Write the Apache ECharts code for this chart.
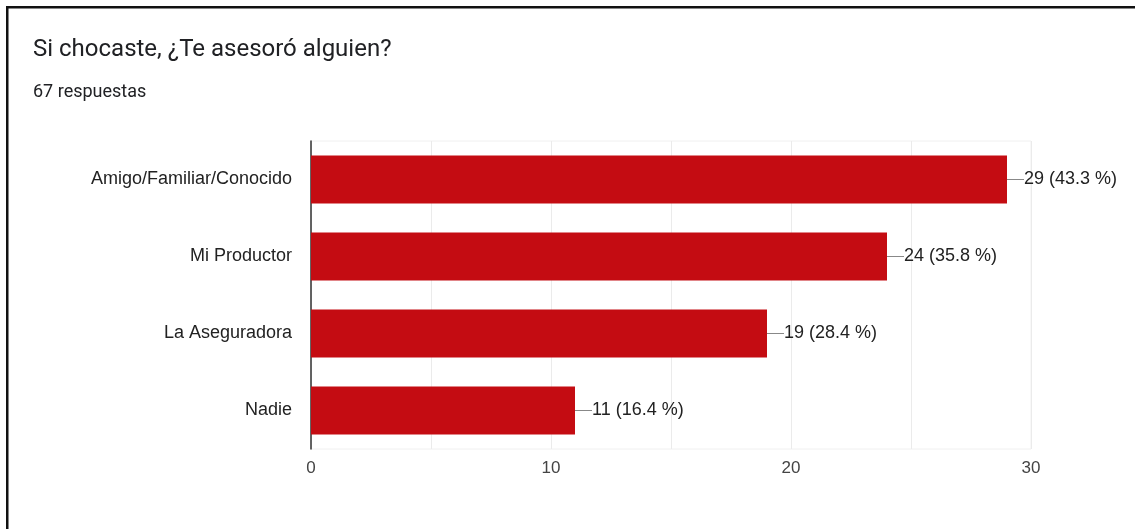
<!DOCTYPE html>
<html>
<head>
<meta charset="utf-8">
<script src="https://cdn.jsdelivr.net/npm/echarts@6/dist/echarts.min.js"></script>
<style>
html,body{margin:0;padding:0;background:#fff;}
#c{width:1135px;height:529px;}
</style>
</head>
<body>
<div id="c"></div>
<script>
var categories = ['Amigo/Familiar/Conocido', 'Mi Productor', 'La Aseguradora', 'Nadie'];
var values = [29, 24, 19, 11];
var percents = ['43.3', '35.8', '28.4', '16.4'];
var titleText = 'Si chocaste, ¿Te asesoró alguien?';
var subtitleText = '67 respuestas';

var chart = echarts.init(document.getElementById('c'), null, {renderer: 'canvas'});
chart.setOption({
  backgroundColor: '#fff',
  animation: false,
  title: {
    text: titleText,
    subtext: subtitleText,
    left: 28,
    top: 33,
    itemGap: 21,
    textStyle: {fontFamily: 'Roboto', fontSize: 24, lineHeight: 24, fontWeight: 'normal', color: '#202124'},
    subtextStyle: {fontFamily: 'Roboto', fontSize: 18, lineHeight: 18, color: '#202124'}
  },
  graphic: [
    {type: 'rect', shape: {x: 6, y: 6, width: 1129, height: 2.5}, style: {fill: '#111'}},
    {type: 'rect', shape: {x: 6, y: 6, width: 2.5, height: 523}, style: {fill: '#111'}}
  ],
  grid: {left: 311, right: 104, top: 141, bottom: 80, show: true, borderColor: '#f0f0f0', borderWidth: 1},
  xAxis: {
    type: 'value', min: 0, max: 30, interval: 5,
    axisLine: {show: false},
    axisTick: {show: false},
    splitLine: {lineStyle: {color: '#ebebeb', width: 1}},
    axisLabel: {
      formatter: function (v) { return v % 10 === 0 ? String(v) : ''; },
      fontFamily: 'Liberation Sans', fontSize: 17, color: '#444', margin: 11
    }
  },
  yAxis: {
    type: 'category', data: categories, inverse: true,
    axisTick: {show: false},
    axisLine: {lineStyle: {color: '#333', width: 1.5}},
    axisLabel: {fontFamily: 'Liberation Sans', fontSize: 18, color: '#222', margin: 19}
  },
  series: [{
    type: 'bar',
    data: values,
    barCategoryGap: '37.5%',
    itemStyle: {color: '#c40c12'},
    label: {
      show: true, position: 'right', distance: 0,
      formatter: function (p) { return '{ln|}{t|' + p.value + ' (' + percents[p.dataIndex] + ' %)}'; },
      rich: {
        ln: {width: 17, height: 1, backgroundColor: '#888'},
        t: {fontFamily: 'Liberation Sans', fontSize: 18, color: '#222', lineHeight: 22}
      }
    }
  }]
});
</script>
</body>
</html>
